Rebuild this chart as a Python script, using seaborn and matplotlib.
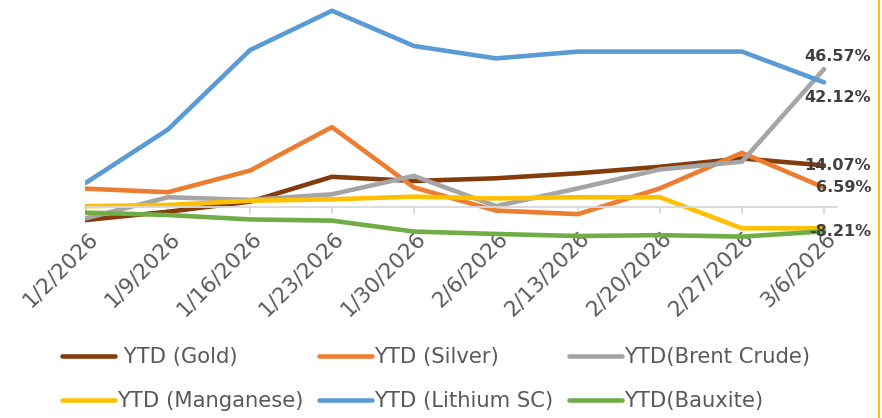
import pandas as pd
import seaborn as sns
from matplotlib import pyplot as plt
from matplotlib.lines import Line2D
from matplotlib.transforms import ScaledTranslation

sns.set_theme(style="white")
plt.rcParams["font.family"] = ["DejaVu Sans"]

DATES = ["1/2/2026", "1/9/2026", "1/16/2026", "1/23/2026", "1/30/2026",
         "2/6/2026", "2/13/2026", "2/20/2026", "2/27/2026", "3/6/2026"]

SERIES = [" YTD (Gold)", "YTD (Silver)", "YTD(Brent Crude)",
          "YTD (Manganese)", "YTD (Lithium SC)", "YTD(Bauxite)"]

gold = [-4.4, -1.6, 1.8, 10.2, 8.8, 9.7, 11.4, 13.6, 16.4, 14.07]
silver = [6.2, 5.0, 12.3, 27.0, 6.6, -1.2, -2.4, 6.3, 18.3, 6.59]
brent = [-3.8, 3.3, 2.4, 4.3, 10.5, 0.3, 6.3, 12.7, 15.3, 46.57]
manganese = [0.3, 0.7, 2.1, 2.6, 3.5, 2.9, 3.3, 3.3, -7.2, -7.2]
lithium = [8.2, 26.2, 53.0, 66.3, 54.4, 50.2, 52.5, 52.5, 52.5, 42.12]
bauxite = [-1.9, -2.7, -4.2, -4.6, -8.3, -9.1, -9.8, -9.5, -10.0, -8.21]

COLORS = ["#843C0C", "#ED7D31", "#A5A5A5", "#FFC000", "#5B9BD5", "#70AD47"]

# labels on the last point: series index -> vertical offset in pt
END_LABELS = {2: 9, 4: -11, 0: 0, 1: 0, 5: 0}


def plot_data():
    values = [gold, silver, brent, manganese, lithium, bauxite]
    df = pd.DataFrame({
        "date": DATES * len(SERIES),
        "series": [s for s in SERIES for _ in DATES],
        "value": [v for vals in values for v in vals],
    })

    fig = plt.figure(figsize=(8.82, 4.18), dpi=100)
    ax = fig.add_axes([85 / 882, 1 - 260 / 418, 752 / 882, 255 / 418])

    sns.lineplot(data=df, x="date", y="value", hue="series", hue_order=SERIES,
                 palette=COLORS, linewidth=3.3, sort=False, ax=ax)
    for line in ax.lines:
        line.set_solid_capstyle("round")
        line.set_solid_joinstyle("round")

    ax.set_xlim(-0.012, 9.159)
    ax.set_ylim(-17.9, 68.24)
    ax.set(xlabel="", ylabel="")
    ax.set_yticks([])
    for side in ["top", "right", "left"]:
        ax.spines[side].set_visible(False)
    ax.spines["bottom"].set_position(("data", 0))
    ax.spines["bottom"].set_color("#D9D9D9")
    ax.spines["bottom"].set_linewidth(1.3)
    ax.tick_params(axis="x", direction="out", length=5, width=1.3, color="#D9D9D9",
                   pad=15, labelsize=15.5, labelcolor="#595959", bottom=True)
    shift = ScaledTranslation(6 / 72, 0, fig.dpi_scale_trans)
    for lab in ax.get_xticklabels():
        lab.set_rotation(45)
        lab.set_ha("right")
        lab.set_va("center")
        lab.set_rotation_mode("anchor")
        lab.set_transform(lab.get_transform() + shift)

    for i, dy in END_LABELS.items():
        v = values[i][-1]
        ax.annotate(f"{v:.2f}%", xy=(len(DATES) - 1, v), xytext=(34, dy),
                    textcoords="offset points", ha="right", va="center",
                    fontsize=11.5, fontweight="bold", color="#404040", zorder=5)

    handles, labels = ax.get_legend_handles_labels()
    ax.get_legend().remove()
    order = [0, 3, 1, 4, 2, 5]
    fig.legend([handles[i] for i in order], [labels[i] for i in order],
               loc="upper left", bbox_to_anchor=(62 / 882, 1 - 347 / 418),
               ncol=3, frameon=False, fontsize=15.2, handlelength=2.5,
               handletextpad=0.1, columnspacing=0.75, labelspacing=1.15,
               borderpad=0, borderaxespad=0, labelcolor="#595959")

    fig.add_artist(Line2D([879 / 882, 879 / 882], [0, 1], color="#FFC000",
                          lw=1.5, transform=fig.transFigure))

    fig.savefig("out.png", dpi=100)


def main():
    plot_data()


if __name__ == "__main__":
    main()
